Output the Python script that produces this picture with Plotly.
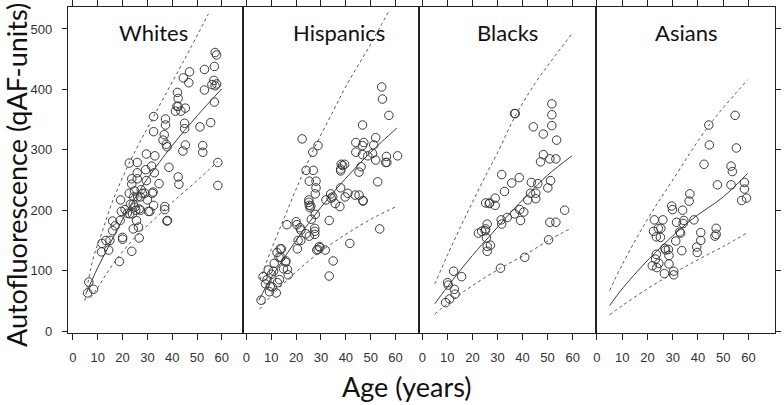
import plotly.graph_objects as go

# ---------------- data ----------------
groups = ["Whites", "Hispanics", "Blacks", "Asians"]
x_ticks = [0, 10, 20, 30, 40, 50, 60]
y_ticks = [0, 100, 200, 300, 400, 500]

whites_age = [5.9, 6.4, 8.3, 11.5, 11.7, 13.3, 14.4, 14.9, 16, 16,
              17, 18.7, 19, 19.2, 19.5, 20, 20, 21, 21.9, 22.7,
              22.7, 22.9, 23.2, 23.7, 23.7, 24, 24.3, 23.7, 24.3, 24.5,
              24.8, 25, 25.3, 25.6, 25.9, 25.9, 25.9, 26.1, 26.4, 26.7,
              26.7, 27.2, 27.2, 27.5, 28, 29, 29.3, 29.6, 29.6, 30,
              30.4, 31, 31.7, 32, 32.3, 32.5, 32.5, 32.5, 32.8, 33,
              34.7, 36.3, 36.8, 37, 37, 37.3, 37.3, 37.6, 37.9, 37.9,
              38.1, 38.7, 42.4, 42.7, 42.1, 42.4, 41.9, 42.4, 41.3, 43.5,
              45, 45, 45.3, 45.3, 44.3, 44.5, 46.7, 47, 51.2, 52.3,
              52.3, 53, 53, 55.5, 56, 57, 56.8, 57.3, 57.9, 57,
              57.3, 57.9, 58.4, 58.4]
whites_qaf = [63, 81, 69, 131, 145, 150, 134, 150, 166, 182,
              174, 115, 183, 217, 198, 155, 152, 201, 195, 278,
              228, 194, 210, 252, 243, 194, 169, 132, 210, 222,
              232, 205, 200, 183, 279, 262, 252, 222, 172, 154,
              202, 200, 222, 234, 228, 228, 267, 249, 293, 217,
              198, 198, 273, 228, 230, 208, 330, 355, 262, 290,
              244, 316, 325, 206, 201, 351, 341, 309, 305, 182,
              183, 271, 255, 243, 395, 385, 372, 372, 364, 364,
              344, 335, 369, 308, 298, 419, 411, 429, 338, 307,
              296, 433, 399, 345, 408, 438, 415, 406, 409, 379,
              461, 457, 279, 241]

hispanics_age = [5.9, 6.7, 7.7, 8.3, 8.8, 9.3, 9.6, 10.1, 10.4, 10.9,
                 11.2, 12, 12.3, 12.5, 13.1, 13.3, 13.6, 13.9, 14.1, 14.9,
                 15.7, 15.9, 16.3, 16.5, 16.8, 20, 20.3, 20.5, 20.8, 21.6,
                 21.9, 21.9, 22.4, 24, 24, 25.1, 25.1, 25.3, 25.3, 25.3,
                 25.6, 25.9, 26.1, 26.7, 26.9, 27.5, 27.5, 27.5, 27.7, 27.7,
                 28, 28, 28.3, 28.8, 28.8, 29.3, 29.6, 31.7, 32, 33.3,
                 33.3, 33.9, 34.1, 34.7, 34.9, 35.7, 37.6, 37.9, 37.9, 37.9,
                 38.1, 38.7, 39.5, 39.7, 40.8, 41.6, 43.7, 44, 44, 45.3,
                 45.3, 46.1, 46.7, 46.7, 46.7, 46.9, 46.9, 47.2, 48.8, 50.7,
                 51.2, 52, 52, 52.8, 53.6, 54.4, 54.7, 56, 56.3, 56.5,
                 57.3, 60.8]
hispanics_qaf = [51, 90, 78, 85, 101, 65, 74, 94, 73, 99,
                 112, 63, 130, 80, 122, 85, 136, 122, 136, 103,
                 114, 116, 176, 102, 93, 181, 176, 136, 150, 171,
                 167, 150, 318, 266, 161, 217, 213, 208, 248, 157,
                 204, 207, 185, 296, 266, 165, 170, 160, 193, 227,
                 248, 237, 134, 307, 135, 140, 138, 134, 217, 183,
                 91, 227, 220, 222, 116, 211, 206, 237, 265, 268,
                 276, 274, 276, 222, 228, 145, 225, 296, 312, 225,
                 263, 272, 307, 292, 341, 216, 215, 312, 290, 294,
                 308, 320, 283, 247, 169, 404, 384, 279, 289, 279,
                 357, 290]

blacks_age = [9.3, 10.9, 10.1, 10.4, 12.5, 12.8, 13.1, 15.7, 22.4, 23.7,
              25.1, 25.3, 25.9, 25.6, 25.9, 25.9, 27.2, 25.3, 26.7, 26.9,
              29.1, 29.1, 31.2, 31.5, 31.7, 31.7, 32.8, 33.9, 35.7, 36.8,
              36.8, 37.1, 38.7, 38.9, 39.2, 40.5, 40.9, 42.1, 43.2, 43.5,
              44.3, 45.3, 45.3, 46.1, 47.2, 48.3, 48.3, 50.1, 50.4, 50.9,
              50.9, 51.2, 51.7, 51.7, 51.7, 53.3, 53.3, 53.6, 56.8]
blacks_qaf = [47, 53, 80, 76, 99, 69, 61, 90, 162, 165,
              166, 169, 177, 154, 140, 132, 142, 212, 211, 212,
              208, 220, 104, 184, 177, 259, 231, 188, 245, 194,
              360, 360, 254, 201, 183, 197, 122, 217, 228, 246,
              338, 228, 219, 244, 280, 292, 326, 237, 151, 180,
              285, 249, 376, 358, 340, 180, 285, 316, 200]

asians_age = [21.9, 22.4, 22.7, 23.2, 23.5, 23.5, 23.7, 24.3, 24.5, 25.1,
              25.3, 26.1, 26.7, 26.9, 27.2, 28.3, 28.5, 28.5, 29.6, 29.9,
              30.4, 30.4, 31.2, 31.5, 32.8, 33.1, 33.6, 33.9, 34.1, 34.4,
              36.5, 36.8, 38.4, 39.5, 39.7, 41.1, 41.1, 42.4, 44.3, 44.5,
              46.7, 47.2, 47.2, 47.7, 53.1, 53.1, 53.6, 54.7, 55.2, 57.3,
              58.4, 58.4, 59.2]
asians_qaf = [108, 165, 184, 119, 156, 127, 105, 170, 112, 155,
              170, 184, 95, 137, 134, 135, 125, 111, 207, 201,
              99, 93, 149, 180, 164, 162, 133, 200, 178, 183,
              215, 227, 184, 139, 130, 163, 150, 276, 341, 308,
              157, 170, 160, 242, 242, 273, 264, 357, 303, 216,
              246, 235, 220]

# fitted mean curves and prediction limits
whites_mean_age = [5.5, 10, 15, 20, 25, 30, 40, 50, 60]
whites_mean = [64, 105, 145, 185, 220, 252, 307, 356, 401]
whites_upper_age = [4.8, 8, 12, 16, 22.7, 32.5, 45, 54.6]
whites_upper = [50, 118, 167, 215, 278, 355, 450, 525]
whites_lower_age = [7, 10, 16, 25, 32, 40, 50, 58.5]
whites_lower = [55, 72, 110, 155, 182, 213, 249, 281]

hispanics_mean_age = [5, 10, 20, 30, 40, 50, 60.5]
hispanics_mean = [51, 88, 150, 205, 253, 296, 336]
hispanics_upper_age = [5.5, 10, 15, 20, 27, 35, 40, 50, 57.3]
hispanics_upper = [85, 135, 185, 235, 300, 365, 405, 475, 530]
hispanics_lower_age = [5.3, 10, 20, 30, 40, 50, 60.3]
hispanics_lower = [36, 58, 98, 132, 160, 185, 206]

blacks_mean_age = [5, 10, 20, 27.7, 35, 42.4, 50, 59.7]
blacks_mean = [45, 73, 125, 161, 195, 227, 258, 290]
blacks_upper_age = [5, 10, 15, 20, 25, 30, 37, 45, 52, 59.7]
blacks_upper = [78, 125, 170, 213, 255, 295, 355, 410, 450, 492]
blacks_lower_age = [5, 10, 20, 31.2, 40.9, 50.4, 59.7]
blacks_lower = [28, 45, 75, 104, 126, 150, 171]

asians_mean_age = [5, 10.4, 22.4, 37, 50, 59.7]
asians_mean = [42, 72, 127, 183, 222, 261]
asians_upper_age = [5, 10, 20, 30, 44.3, 59.7]
asians_upper = [67, 110, 185, 250, 340, 416]
asians_lower_age = [5, 10, 20, 30, 40, 50, 59.7]
asians_lower = [27, 42, 70, 95, 118, 140, 163]

points = [(whites_age, whites_qaf), (hispanics_age, hispanics_qaf),
          (blacks_age, blacks_qaf), (asians_age, asians_qaf)]
means = [(whites_mean_age, whites_mean), (hispanics_mean_age, hispanics_mean),
         (blacks_mean_age, blacks_mean), (asians_mean_age, asians_mean)]
uppers = [(whites_upper_age, whites_upper), (hispanics_upper_age, hispanics_upper),
          (blacks_upper_age, blacks_upper), (asians_upper_age, asians_upper)]
lowers = [(whites_lower_age, whites_lower), (hispanics_lower_age, hispanics_lower),
          (blacks_lower_age, blacks_lower), (asians_lower_age, asians_lower)]

# ---------------- layout helpers ----------------
W, H = 784, 405
ML, MR, MT, MB = 68, 9, 7, 72
bounds = [0, 0.2481, 0.4968, 0.7475, 1.0]
title_shift_px = [-2.5, 8, 0, 0]
x_ranges = [[-2, 68.7], [-1.2, 69.5], [-1.2, 69.5], [-0.2, 70.5]]
y_range = [-3.3, 536.4]

INK = "#222222"
PT = "#3a3a3a"
tick_font = dict(family="Liberation Sans, Arial, sans-serif", size=13, color="#333333")
title_font = "Lato, 'Open Sans', sans-serif"

plot_h = H - MT - MB
plot_w = W - ML - MR

fig = go.Figure()
layout = dict(
    width=W, height=H,
    margin=dict(l=ML, r=MR, t=MT, b=MB, autoexpand=False),
    paper_bgcolor="white", plot_bgcolor="white",
    showlegend=False,
    annotations=[],
)

for i in range(4):
    xa = "x" if i == 0 else f"x{i+1}"
    ya = "y" if i == 0 else f"y{i+1}"
    xk = "xaxis" if i == 0 else f"xaxis{i+1}"
    yk = "yaxis" if i == 0 else f"yaxis{i+1}"

    px_, py_ = points[i]
    fig.add_trace(go.Scatter(
        x=px_, y=py_, mode="markers", xaxis=xa, yaxis=ya,
        marker=dict(symbol="circle-open", size=8.5, color=PT, line=dict(width=1, color=PT)),
        hoverinfo="x+y"))
    mx, my = means[i]
    fig.add_trace(go.Scatter(x=mx, y=my, mode="lines", xaxis=xa, yaxis=ya,
                             line=dict(color=PT, width=1, shape="spline")))
    for ux, uy in (uppers[i], lowers[i]):
        fig.add_trace(go.Scatter(x=ux, y=uy, mode="lines", xaxis=xa, yaxis=ya,
                                 line=dict(color="#555555", width=1, dash="3px,3px",
                                           shape="spline")))

    layout[xk] = dict(
        domain=[bounds[i], bounds[i + 1]], range=x_ranges[i], anchor=ya,
        tickmode="array", tickvals=x_ticks, ticktext=[str(t) for t in x_ticks],
        ticks="outside", ticklen=6, tickwidth=1, tickcolor=INK,
        showline=True, linecolor=INK, linewidth=1.3, mirror="ticks",
        showgrid=False, zeroline=False, tickfont=tick_font, ticklabelstandoff=6,
        automargin=False, fixedrange=True)
    yaxis = dict(
        domain=[0, 1], range=y_range, anchor=xa,
        tickmode="array", tickvals=y_ticks, ticktext=[str(t) for t in y_ticks],
        showline=True, linecolor=INK, linewidth=1.3, mirror=True,
        showgrid=False, zeroline=False, tickfont=tick_font,
        automargin=False, fixedrange=True)
    if i == 0:
        yaxis.update(ticks="outside", ticklen=5, tickwidth=1, tickcolor=INK,
                     showticklabels=True, ticklabelstandoff=7)
    elif i == 3:
        yaxis.update(side="right", ticks="outside", ticklen=5, tickwidth=1,
                     tickcolor=INK, showticklabels=False)
    else:
        yaxis.update(ticks="", showticklabels=False)
    layout[yk] = yaxis

    layout["annotations"].append(dict(
        text=groups[i], xref="paper", yref="paper",
        x=(bounds[i] + bounds[i + 1]) / 2 + title_shift_px[i] / plot_w, y=0.922,
        xanchor="center", yanchor="middle", showarrow=False,
        font=dict(family=title_font, size=22, color="#111111")))

layout["annotations"].append(dict(
    text="Age (years)", xref="paper", yref="paper",
    x=(406 - ML) / plot_w, y=-(386 - (H - MB)) / plot_h,
    xanchor="center", yanchor="middle", showarrow=False,
    font=dict(family=title_font, size=27, color="#111111")))
layout["annotations"].append(dict(
    text="Autofluorescence (qAF-units)", xref="paper", yref="paper",
    x=-(ML - 16) / plot_w, y=((H - MB) - 175) / plot_h,
    xanchor="center", yanchor="middle", textangle=-90, showarrow=False,
    font=dict(family=title_font, size=27, color="#111111")))

fig.update_layout(**layout)
fig.write_html(
    "out.html",
    config={"displayModeBar": False},
    post_script="document.body.style.margin='0px';document.body.style.padding='0px';",
)
